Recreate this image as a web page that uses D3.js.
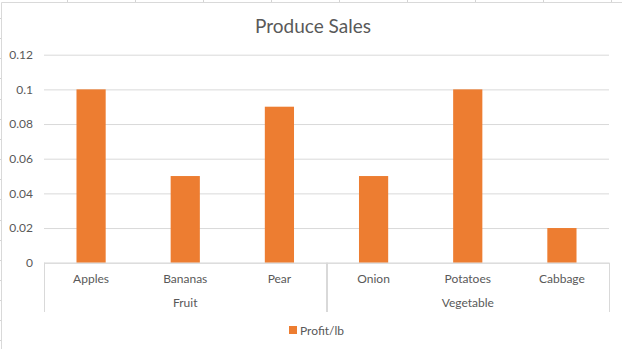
<!DOCTYPE html>
<html>
<head>
<meta charset="utf-8">
<script src="https://cdn.jsdelivr.net/npm/d3@7"></script>
<style>
  html, body { margin: 0; padding: 0; background: #fff; }
  svg { display: block; }
  text { font-family: Lato, "Open Sans", sans-serif; fill: #595959; }
</style>
</head>
<body>
<svg id="chart" width="622" height="349"></svg>
<script>
// Produce profit per pound, grouped by kind
const categories = ["Apples", "Bananas", "Pear", "Onion", "Potatoes", "Cabbage"];
const groups = ["Fruit", "Fruit", "Fruit", "Vegetable", "Vegetable", "Vegetable"];
const profitPerLb = [0.1, 0.05, 0.09, 0.05, 0.1, 0.02];
const yTicks = [0, 0.02, 0.04, 0.06, 0.08, 0.1, 0.12];
const seriesName = "Profit/lb";
const chartTitle = "Produce Sales";

const W = 622, H = 349;
const svg = d3.select("#chart");

// spreadsheet cell grid peeking around the chart frame
const sheet = svg.append("g").attr("stroke", "#d4d4d4").attr("stroke-width", 1);
d3.range(67, W, 68).forEach(x => {
  sheet.append("line").attr("x1", x + 0.5).attr("x2", x + 0.5).attr("y1", 0).attr("y2", 2);
});
d3.range(18, H, 20.15).forEach(y => {
  sheet.append("line").attr("x1", 0).attr("x2", 1).attr("y1", Math.round(y) + 0.5).attr("y2", Math.round(y) + 0.5);
});

// chart frame
svg.append("path")
  .attr("d", `M1.5,${H} V2.5 H${W}`)
  .attr("fill", "none").attr("stroke", "#d9d9d9");

const plot = { left: 44, right: 609, top: 54.7, bottom: 262.7 };

const x = d3.scaleBand()
  .domain(categories)
  .range([plot.left, plot.right])
  .paddingInner(0.69).paddingOuter(0.345);

const y = d3.scaleLinear()
  .domain([0, 0.12])
  .range([plot.bottom, plot.top]);

// title
svg.append("text")
  .attr("x", 313).attr("y", 33)
  .attr("text-anchor", "middle")
  .style("font-size", "19px")
  .text(chartTitle);

// horizontal gridlines + y labels
const yAxis = d3.axisLeft(y).tickValues(yTicks)
  .tickSize(-(plot.right - plot.left)).tickPadding(11)
  .tickFormat(d => d3.format("")(+d.toFixed(2)));
const gy = svg.append("g")
  .attr("transform", `translate(${plot.left},0)`)
  .call(yAxis);
gy.select(".domain").remove();
gy.selectAll(".tick line").attr("stroke", "#d9d9d9");
gy.selectAll(".tick text")
  .style("font-size", "12px").attr("fill", "#595959");

// bars
svg.append("g").selectAll("rect")
  .data(categories)
  .join("rect")
  .attr("x", d => x(d))
  .attr("width", x.bandwidth())
  .attr("y", (d, i) => y(profitPerLb[i]))
  .attr("height", (d, i) => y(0) - y(profitPerLb[i]))
  .attr("fill", "#ed7d31");

// category axis baseline
svg.append("line")
  .attr("x1", plot.left).attr("x2", plot.right)
  .attr("y1", y(0) + 0.5).attr("y2", y(0) + 0.5)
  .attr("stroke", "#d9d9d9");

// category labels
svg.append("g").selectAll("text")
  .data(categories)
  .join("text")
  .attr("x", d => x(d) + x.bandwidth() / 2)
  .attr("y", 283)
  .attr("text-anchor", "middle")
  .style("font-size", "12px")
  .text(d => d);

// group labels and separators
const groupNames = Array.from(new Set(groups));
const groupSpan = g => {
  const idx = groups.map((v, i) => v === g ? i : -1).filter(i => i >= 0);
  const step = x.step();
  const start = x(categories[idx[0]]) - step * x.paddingInner() / 2;
  const end = x(categories[idx[idx.length - 1]]) + x.bandwidth() + step * x.paddingInner() / 2;
  return [start, end];
};
const sepY2 = 312;
const seps = new Set();
groupNames.forEach(g => {
  const [s, e] = groupSpan(g);
  seps.add(Math.round(s)); seps.add(Math.round(e));
  svg.append("text")
    .attr("x", (s + e) / 2).attr("y", 307)
    .attr("text-anchor", "middle")
    .style("font-size", "12px")
    .text(g);
});
seps.forEach(sx => {
  svg.append("line")
    .attr("x1", sx + 0.5).attr("x2", sx + 0.5)
    .attr("y1", y(0)).attr("y2", sepY2)
    .attr("stroke", "#d9d9d9");
});

// legend
const legend = svg.append("g").attr("transform", "translate(289,326)");
legend.append("rect").attr("width", 8).attr("height", 8).attr("fill", "#ed7d31");
legend.append("text").attr("x", 11).attr("y", 8.5)
  .style("font-size", "12px").text(seriesName);
</script>
</body>
</html>
